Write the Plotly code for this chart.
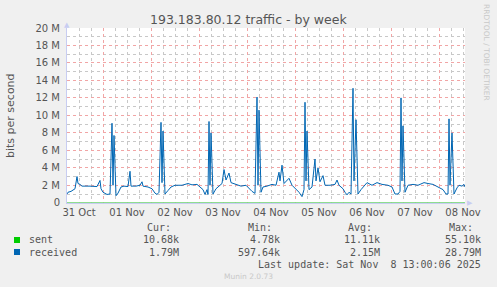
import plotly.graph_objects as go
import pandas as pd

# ---------------- data ----------------
received_times = [
    "2025-10-31 06:00", "2025-10-31 06:30", "2025-10-31 08:00", "2025-10-31 10:00", "2025-10-31 11:00",
    "2025-10-31 11:30", "2025-10-31 12:30", "2025-10-31 13:30", "2025-10-31 17:30", "2025-10-31 21:00",
    "2025-10-31 22:30", "2025-10-31 23:00", "2025-11-01 00:00", "2025-11-01 02:00", "2025-11-01 03:30",
    "2025-11-01 04:30", "2025-11-01 05:00", "2025-11-01 05:30", "2025-11-01 06:30", "2025-11-01 07:30",
    "2025-11-01 09:00", "2025-11-01 10:30", "2025-11-01 12:30", "2025-11-01 13:30", "2025-11-01 14:00",
    "2025-11-01 16:30", "2025-11-01 18:30", "2025-11-01 19:30", "2025-11-01 20:00", "2025-11-01 22:30",
    "2025-11-02 00:30", "2025-11-02 02:00", "2025-11-02 03:00", "2025-11-02 04:00", "2025-11-02 05:00",
    "2025-11-02 05:30", "2025-11-02 06:00", "2025-11-02 07:00", "2025-11-02 08:30", "2025-11-02 10:00",
    "2025-11-02 12:00", "2025-11-02 15:30", "2025-11-02 18:30", "2025-11-02 20:30", "2025-11-02 23:00",
    "2025-11-03 00:30", "2025-11-03 02:00", "2025-11-03 03:00", "2025-11-03 04:00", "2025-11-03 04:30",
    "2025-11-03 05:00", "2025-11-03 05:30", "2025-11-03 06:00", "2025-11-03 07:00", "2025-11-03 08:30",
    "2025-11-03 10:00", "2025-11-03 11:30", "2025-11-03 12:30", "2025-11-03 13:30", "2025-11-03 15:00",
    "2025-11-03 16:00", "2025-11-03 18:30", "2025-11-03 21:00", "2025-11-03 23:30", "2025-11-04 01:30",
    "2025-11-04 02:30", "2025-11-04 04:00", "2025-11-04 05:00", "2025-11-04 05:30", "2025-11-04 06:00",
    "2025-11-04 07:00", "2025-11-04 08:00", "2025-11-04 10:00", "2025-11-04 12:30", "2025-11-04 14:30",
    "2025-11-04 16:00", "2025-11-04 16:30", "2025-11-04 17:30", "2025-11-04 18:30", "2025-11-04 21:00",
    "2025-11-04 22:30", "2025-11-05 00:30", "2025-11-05 02:00", "2025-11-05 03:30", "2025-11-05 04:30",
    "2025-11-05 05:00", "2025-11-05 05:30", "2025-11-05 06:00", "2025-11-05 07:00", "2025-11-05 08:30",
    "2025-11-05 10:00", "2025-11-05 10:30", "2025-11-05 11:30", "2025-11-05 12:30", "2025-11-05 14:00",
    "2025-11-05 15:00", "2025-11-05 17:30", "2025-11-05 20:00", "2025-11-05 21:00", "2025-11-05 22:00",
    "2025-11-06 00:00", "2025-11-06 01:00", "2025-11-06 02:00", "2025-11-06 03:00", "2025-11-06 04:00",
    "2025-11-06 05:00", "2025-11-06 05:30", "2025-11-06 06:30", "2025-11-06 07:30", "2025-11-06 09:00",
    "2025-11-06 11:00", "2025-11-06 12:00", "2025-11-06 14:30", "2025-11-06 17:00", "2025-11-06 19:30",
    "2025-11-06 22:30", "2025-11-07 00:30", "2025-11-07 02:00", "2025-11-07 03:30", "2025-11-07 04:30",
    "2025-11-07 05:00", "2025-11-07 05:30", "2025-11-07 06:00", "2025-11-07 07:00", "2025-11-07 08:30",
    "2025-11-07 11:00", "2025-11-07 13:30", "2025-11-07 16:30", "2025-11-07 18:30", "2025-11-07 21:00",
    "2025-11-07 23:30", "2025-11-08 02:00", "2025-11-08 03:30", "2025-11-08 04:30", "2025-11-08 05:00",
    "2025-11-08 05:30", "2025-11-08 06:30", "2025-11-08 07:30", "2025-11-08 09:00", "2025-11-08 10:00",
    "2025-11-08 11:30", "2025-11-08 12:30", "2025-11-08 13:00",
]
received_mbps = [
    1.0, 1.2, 1.3, 1.6, 3.0,
    2.2, 2.1, 1.9, 1.9, 1.85,
    2.55, 1.6, 1.2, 0.95, 1.0,
    9.1, 2.0, 7.7, 0.8, 1.1,
    1.8, 1.9, 1.85, 3.6, 1.9,
    1.9, 2.0, 2.4, 1.9, 1.8,
    1.6, 1.1, 0.95, 1.2, 9.2,
    2.3, 8.2, 1.0, 1.4, 1.8,
    2.0, 2.0, 2.2, 2.05, 2.1,
    1.8, 1.5, 0.95, 1.5, 0.95,
    9.3, 2.0, 8.0, 1.0, 1.6,
    1.9, 2.2, 3.8, 2.6, 3.4,
    2.3, 2.1, 1.9, 2.0, 1.5,
    1.3, 1.07, 12.1, 2.0, 10.6,
    1.2, 1.8, 1.9, 2.1, 2.0,
    3.5, 2.5, 4.3, 2.2, 2.8,
    2.0, 1.6, 1.2, 0.7, 1.5,
    11.5, 2.5, 8.2, 1.5, 1.8,
    5.0, 2.5, 4.0, 2.4, 3.1,
    2.0, 2.0, 2.1, 2.6, 2.0,
    1.6, 1.2, 0.9, 1.2, 1.0,
    13.1, 2.5, 9.5, 1.0, 1.5,
    2.0, 2.3, 2.0, 2.3, 2.1,
    2.0, 1.8, 1.0, 1.0, 1.3,
    12.0, 2.5, 8.8, 1.2, 2.0,
    2.1, 2.0, 2.3, 2.2, 2.1,
    1.8, 1.5, 1.0, 1.0, 9.6,
    2.0, 8.0, 1.0, 1.7, 2.0,
    1.9, 2.1, 1.8,
]

sent_times = ["2025-10-31 06:00", "2025-11-01 06:00", "2025-11-02 06:00", "2025-11-03 06:00",
              "2025-11-04 06:00", "2025-11-05 06:00", "2025-11-06 06:00", "2025-11-07 06:00",
              "2025-11-08 06:00", "2025-11-08 13:00"]
sent_kbps = [10.5, 12.0, 11.0, 11.5, 10.8, 11.2, 11.6, 10.9, 11.0, 10.68]

y_tick_values = [0, 2e6, 4e6, 6e6, 8e6, 10e6, 12e6, 14e6, 16e6, 18e6, 20e6]
y_tick_labels = ["0", "2 M", "4 M", "6 M", "8 M", "10 M", "12 M", "14 M", "16 M", "18 M", "20 M"]

x_start = "2025-10-31 06:00"
x_end = "2025-11-08 13:00"

title_text = "193.183.80.12 traffic - by week"
y_title = "bits per second"
legend_names = ["sent", "received"]
legend_colors = ["#00CC00", "#0066B3"]
stat_headers = ["Cur:", "Min:", "Avg:", "Max:"]
stat_sent = ["10.68k", "4.78k", "11.11k", "55.10k"]
stat_received = ["1.79M", "597.64k", "2.15M", "28.79M"]
last_update = "Last update: Sat Nov\u00a0\u00a08 13:00:06 2025"
footer = "Munin 2.0.73"
side_text = "RRDTOOL / TOBI OETIKER"

# ---------------- layout helpers ----------------
W, H = 497, 287
L, R, T, B = 67, 32, 28, 84
PW, PH = W - L - R, H - T - B


def px(x):
    return (x - L) / PW


def py(y):
    return (H - B - y) / PH


MONO = "DejaVu Sans Mono"
SANS = "DejaVu Sans"
TXT = "#555555"

# minor grid positions (every 6 h / every 1 M) that are not on a major grid line
six_hours = pd.date_range(pd.Timestamp(x_start).floor("D"), x_end, freq="6h")
x_minor = [t.strftime("%Y-%m-%d %H:%M") for t in six_hours if t.hour != 0]
y_minor = [v * 1e6 for v in range(1, 20, 2)]

fig = go.Figure()
fig.add_trace(go.Scatter(x=sent_times, y=[v * 1e3 for v in sent_kbps], mode="lines",
                         line=dict(color="#7fd87f", width=1), showlegend=False,
                         hoverinfo="skip"))
fig.add_trace(go.Scatter(x=received_times, y=[v * 1e6 for v in received_mbps], mode="lines",
                         line=dict(color=legend_colors[1], width=1), showlegend=False))

red_grid = "rgb(241,165,165)"
gray_grid = "rgb(200,200,200)"

fig.update_xaxes(
    type="date", range=[x_start, x_end],
    tick0="2025-10-31", dtick=86400000, ticklabelmode="period", tickformat="%d %b",
    showgrid=True, gridcolor=red_grid, griddash="dot", gridwidth=1,
    minor=dict(tickmode="array", tickvals=x_minor, showgrid=True, gridcolor=gray_grid,
               griddash="dot", gridwidth=1, ticks=""),
    ticks="", showline=True, linecolor="#C8CDF2", linewidth=1, layer="below traces",
    tickfont=dict(family=SANS, size=10, color=TXT), zeroline=False,
)
fig.update_yaxes(
    range=[-0.03e6, 20e6], tickmode="array", tickvals=y_tick_values, ticktext=y_tick_labels,
    showgrid=True, gridcolor=red_grid, griddash="dot", gridwidth=1,
    minor=dict(tickmode="array", tickvals=y_minor, showgrid=True, gridcolor=gray_grid,
               griddash="dot", gridwidth=1, ticks=""),
    ticks="", showline=True, linecolor="#C8CDF2", linewidth=1, layer="below traces",
    tickfont=dict(family=SANS, size=10, color=TXT), zeroline=False, ticklabelstandoff=4,
)

ann = []
ann.append(dict(text=title_text, x=px(248), y=py(19), xref="paper", yref="paper",
                showarrow=False, xanchor="center", yanchor="middle",
                font=dict(family=SANS, size=12.5, color=TXT)))
ann.append(dict(text=y_title, x=px(10), y=py(115), xref="paper", yref="paper",
                showarrow=False, textangle=-90, xanchor="center", yanchor="middle",
                font=dict(family=SANS, size=11, color=TXT)))
ann.append(dict(text=side_text, x=px(487), y=py(53), xref="paper", yref="paper",
                showarrow=False, textangle=90, xanchor="center", yanchor="middle",
                font=dict(family=SANS, size=7.5, color="#c8c8c8")))
# axis arrows
ann.append(dict(text="\u25B2", x=px(67), y=py(25), xref="paper", yref="paper", showarrow=False,
                xanchor="center", yanchor="middle", font=dict(family=SANS, size=7, color="#C8CDF2")))
ann.append(dict(text="\u25B6", x=px(470), y=py(203), xref="paper", yref="paper", showarrow=False,
                xanchor="center", yanchor="middle", font=dict(family=SANS, size=7, color="#C8CDF2")))

header_left = [145, 246, 346, 447]
col_right = [181, 282, 382, 483]
for hx, h in zip(header_left, stat_headers):
    ann.append(dict(text=h, x=px(hx), y=py(227), xref="paper", yref="paper", showarrow=False,
                    xanchor="left", yanchor="middle", font=dict(family=MONO, size=10, color=TXT)))
for row_y, name, vals in [(239, legend_names[0], stat_sent), (252, legend_names[1], stat_received)]:
    ann.append(dict(text=name, x=px(27), y=py(row_y), xref="paper", yref="paper", showarrow=False,
                    xanchor="left", yanchor="middle", font=dict(family=MONO, size=10, color=TXT)))
    for cx, v in zip(col_right, vals):
        ann.append(dict(text=v, x=px(cx), y=py(row_y), xref="paper", yref="paper", showarrow=False,
                        xanchor="right", yanchor="middle", font=dict(family=MONO, size=10, color=TXT)))
ann.append(dict(text=last_update, x=px(483), y=py(264), xref="paper", yref="paper", showarrow=False,
                xanchor="right", yanchor="middle", font=dict(family=MONO, size=10, color=TXT)))
ann.append(dict(text=footer, x=px(248), y=py(276), xref="paper", yref="paper", showarrow=False,
                xanchor="center", yanchor="middle", font=dict(family=SANS, size=7.5, color="#c8c8c8")))

shapes = []
for row_y, col in [(240, legend_colors[0]), (252, legend_colors[1])]:
    shapes.append(dict(type="rect", xref="paper", yref="paper",
                       x0=px(14), x1=px(20), y0=py(row_y + 3), y1=py(row_y - 3),
                       fillcolor=col, line=dict(width=0)))

fig.update_layout(
    width=W, height=H, margin=dict(l=L, r=R, t=T, b=B, pad=0),
    paper_bgcolor="#F0F0F0", plot_bgcolor="#FFFFFF",
    annotations=ann, shapes=shapes, showlegend=False,
)

fig.write_html("out.html")
